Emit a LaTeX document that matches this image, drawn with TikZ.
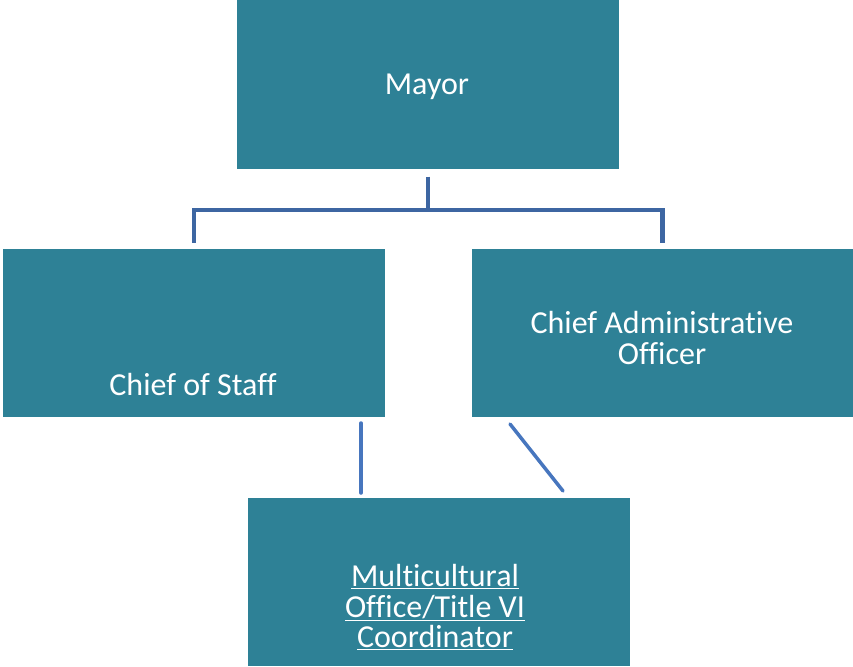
\documentclass[tikz,border=0pt]{standalone}
\usepackage{fontspec}
\setmainfont{Carlito}[Ligatures=NoCommon]
\definecolor{boxfill}{HTML}{2E8196}
\definecolor{linetop}{HTML}{3D66A2}
\definecolor{linelow}{HTML}{4776BE}
\begin{document}
\begin{tikzpicture}[x=1pt,y=-1pt,
  orgbox/.style={fill=boxfill,draw=none,minimum width=382pt,minimum height=168pt,inner sep=0pt},
  lbl/.style={text=white,font=\fontsize{32}{30.5}\selectfont,align=center,inner sep=0pt},
  conntop/.style={draw=linetop,line width=4.5pt},
  connlow/.style={draw=linelow,line width=3.5pt,line cap=round}]
\useasboundingbox (0,0) rectangle (853,666);
\node[orgbox] (mayor) at (428,84.5) {};
\node[orgbox] (cos) at (194,333) {};
\node[orgbox] (cao) at (662.5,333) {};
\node[orgbox] (mco) at (439,582) {};
\node[lbl] (tmayor) at (427,87) {Mayor};
\node[lbl] (tcos) at (193,385) {Chief of Staff};
\node[lbl] (tcao) at (662,338) {Chief Administrative\\Officer};
\node[lbl] (tmco) at (435,607) {\underline{Multicultural}\\\underline{Office/Title VI}\\\underline{Coordinator}};
\coordinate (bar) at (428,210);
\draw[conntop,shorten <=8pt] (mayor.south) -- (bar);
\draw[conntop,shorten >=6pt] (bar) -| (cos.north);
\draw[conntop,shorten >=6pt] (bar) -| (cao.north);
\coordinate (l1) at (361,423);
\coordinate (l2) at (361,493);
\coordinate (d1) at (510,424);
\coordinate (d2) at (563,491);
\draw[connlow] (l1) -- (l2);
\draw[connlow] (d1) -- (d2);
\end{tikzpicture}
\end{document}
